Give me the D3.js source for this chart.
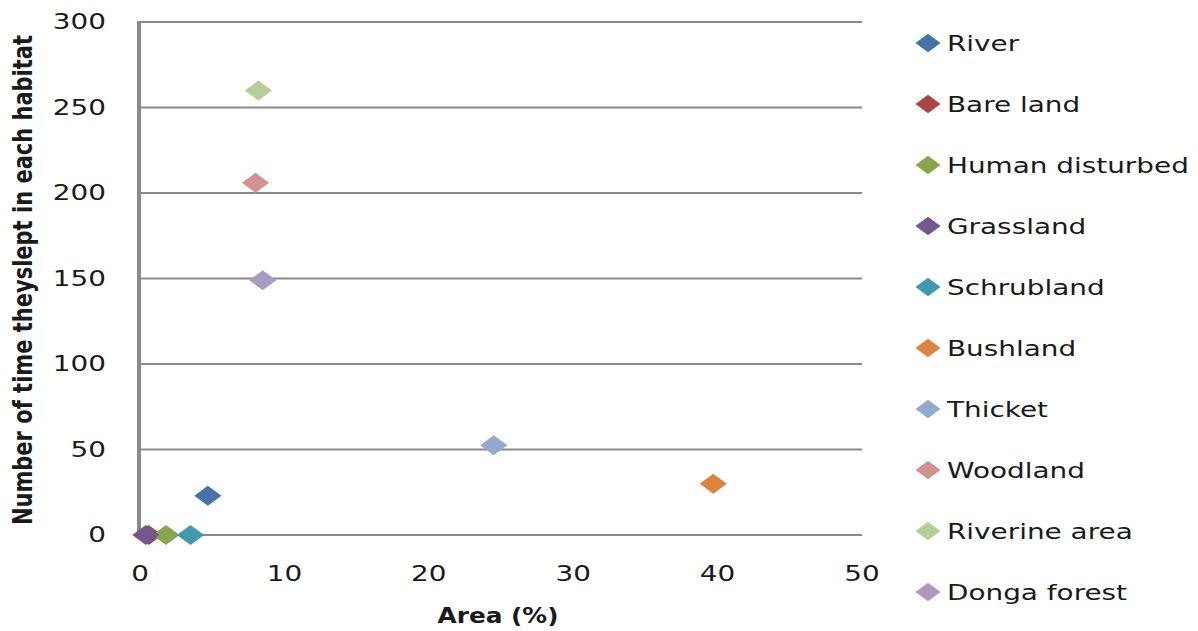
<!DOCTYPE html>
<html>
<head>
<meta charset="utf-8">
<script src="https://cdn.jsdelivr.net/npm/d3@7"></script>
<style>
  body { margin: 0; background: #fff; }
  svg { display: block; }
  text { font-family: "DejaVu Sans", Verdana, sans-serif; fill: #1a1a1a; }
</style>
</head>
<body>
<div id="chart"></div>
<script>
// habitat names, area (%), number of times slept there
const habitats = ["River", "Bare land", "Human disturbed", "Grassland", "Schrubland",
  "Bushland", "Thicket", "Woodland", "Riverine area", "Donga forest"];
const areaPct = [4.7, 0.6, 1.8, 0.4, 3.5, 39.7, 24.5, 8.0, 8.2, 8.5];
const timesSlept = [23, 0, 0, 0, 0, 30, 52.5, 206, 260, 149];
const colors = ["#4572A7", "#AA4643", "#89A54E", "#71588F", "#4198AF",
  "#DB843D", "#93A9CF", "#D19392", "#B9CD96", "#A99BBD"];
const xTicks = [0, 10, 20, 30, 40, 50];
const yTicks = [0, 50, 100, 150, 200, 250, 300];

const W = 1198, H = 631;
const margin = { top: 22, right: 336, bottom: 96, left: 140 };
const sx = 1.36; // picture is stretched sideways

const data = habitats.map((h, i) => ({ name: h, x: areaPct[i], y: timesSlept[i], color: colors[i] }));

const svg = d3.select("#chart").append("svg").attr("width", W).attr("height", H);

const x = d3.scaleLinear().domain([0, 50]).range([margin.left, W - margin.right]);
const y = d3.scaleLinear().domain([0, 300]).range([H - margin.bottom, margin.top]);

// gridlines
svg.append("g").selectAll("line").data(yTicks).join("line")
  .attr("x1", x(0)).attr("x2", x(50))
  .attr("y1", d => y(d)).attr("y2", d => y(d))
  .attr("stroke", "#8a8a8a").attr("stroke-width", 2);

// y axis line
svg.append("line")
  .attr("x1", x(0) - 1).attr("x2", x(0) - 1)
  .attr("y1", y(300) - 1).attr("y2", y(0) + 1)
  .attr("stroke", "#8a8a8a").attr("stroke-width", 4);

// y tick labels
svg.append("g").selectAll("text").data(yTicks).join("text")
  .attr("transform", d => `translate(106,${y(d) + 7}) scale(${sx},1)`)
  .attr("text-anchor", "end")
  .style("font-size", "20.5px")
  .text(d => d);

// x tick labels
svg.append("g").selectAll("text").data(xTicks).join("text")
  .attr("transform", d => `translate(${x(d)},581) scale(${sx},1)`)
  .attr("text-anchor", "middle")
  .style("font-size", "20.5px")
  .text(d => d);

// axis titles
svg.append("text")
  .attr("transform", "translate(498,623) scale(1.18,1)")
  .attr("text-anchor", "middle")
  .style("font-size", "21px").style("font-weight", "bold")
  .text("Area (%)");

svg.append("text")
  .attr("transform", "translate(32,280) scale(1.3,1) rotate(-90)")
  .attr("text-anchor", "middle")
  .style("font-size", "21px").style("font-weight", "bold")
  .text("Number of time theyslept in each habitat");

// points
const diamond = d3.symbol().type(d3.symbolSquare).size(200);
svg.append("g").selectAll("path").data(data).join("path")
  .attr("d", diamond)
  .attr("transform", d => `translate(${x(d.x)},${y(d.y)}) scale(${sx},1) rotate(45)`)
  .attr("fill", d => d.color);

// legend
const ly = d3.scalePoint().domain(habitats).range([43, 592]);
const legend = svg.append("g").selectAll("g").data(data).join("g")
  .attr("transform", d => `translate(928,${ly(d.name)})`);
legend.append("path")
  .attr("d", d3.symbol().type(d3.symbolSquare).size(170))
  .attr("transform", `scale(${sx},1) rotate(45)`)
  .attr("fill", d => d.color);
legend.append("text")
  .attr("transform", `translate(19,7.5) scale(${sx},1)`)
  .style("font-size", "20.5px")
  .text(d => d.name);
</script>
</body>
</html>
